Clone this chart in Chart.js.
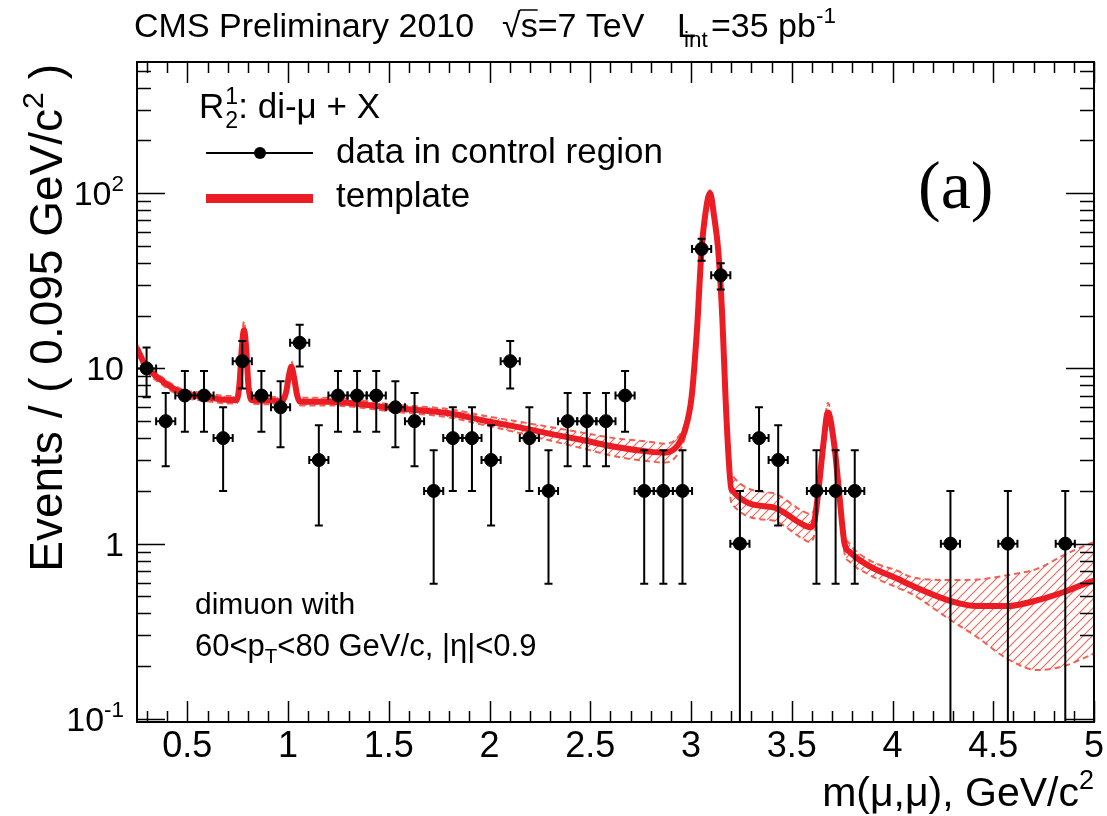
<!DOCTYPE html>
<html>
<head>
<meta charset="utf-8">
<title>Dimuon mass, control region</title>
<script src="https://cdn.jsdelivr.net/npm/chart.js@4.4.1/dist/chart.umd.min.js"></script>
<style>
  html, body { margin: 0; padding: 0; background: #fff; }
  #wrap { width: 1107px; height: 816px; }
</style>
</head>
<body>
<div id="wrap"><canvas id="massChart" width="1107" height="816"></canvas></div>
<script>
// binned data in the control region (bin width 0.095 GeV/c^2, empty bins left out)
const binWidth = 0.095;
const massBins = [
  0.2975, 0.3925, 0.4875, 0.5825, 0.6775, 0.7725, 0.8675, 0.9625, 1.0575, 1.1525,
  1.2475, 1.3425, 1.4375, 1.5325, 1.6275, 1.7225, 1.8175, 1.9125, 2.0075, 2.1025,
  2.1975, 2.2925, 2.3875, 2.4825, 2.5775, 2.6725, 2.7675, 2.8625, 2.9575, 3.0525,
  3.1475, 3.2425, 3.3375, 3.4325, 3.6225, 3.7175, 3.8125, 4.2875, 4.5725, 4.8575
];
const counts = [
  10, 5, 7, 7, 4, 11, 7, 6, 14, 3,
  7, 7, 7, 6, 5, 2, 4, 4, 3, 11,
  4, 2, 5, 5, 5, 7, 2, 2, 2, 48,
  34, 1, 4, 3, 2, 2, 2, 1, 1, 1
];
const countErr = [
  3.16, 2.24, 2.65, 2.65, 2, 3.32, 2.65, 2.45, 3.74, 1.73,
  2.65, 2.65, 2.65, 2.45, 2.24, 1.41, 2, 2, 1.73, 3.32,
  2, 1.41, 2.24, 2.24, 2.24, 2.65, 1.41, 1.41, 1.41, 6.93,
  5.83, 1, 2, 1.73, 1.41, 1.41, 1.41, 1, 1, 1
];

// template shape with its uncertainty band
const templateMass = [
  0.25, 0.29, 0.38, 0.48, 0.58, 0.71, 0.745, 0.76, 0.77, 0.781,
  0.792, 0.803, 0.82, 0.9, 0.97, 0.99, 1.005, 1.016, 1.03, 1.045,
  1.06, 1.2, 1.535, 1.8, 1.96, 2.13, 2.29, 2.46, 2.62, 2.79,
  2.87, 2.935, 2.97, 3.003, 3.03, 3.052, 3.069, 3.094, 3.115, 3.135,
  3.155, 3.171, 3.185, 3.2, 3.4, 3.547, 3.59, 3.613, 3.638, 3.659,
  3.679, 3.712, 3.737, 3.762, 3.786, 3.89, 4.025, 4.09, 4.29, 4.42,
  4.57, 4.72, 4.85, 4.98, 5.0
];
const templateVal = [
  13.0, 10.5, 8.4, 7.2, 6.9, 6.6, 6.6, 8.5, 13, 16.5,
  13, 8, 6.6, 6.55, 6.5, 7.3, 9.2, 10.2, 8.8, 7.0,
  6.45, 6.45, 5.92, 5.54, 5.07, 4.65, 4.26, 3.9, 3.57, 3.35,
  3.3, 3.65, 4.45, 6.9, 17, 47, 73, 100, 73, 47,
  19.7, 6.9, 3.3, 2.05, 1.62, 1.30, 1.24, 1.36, 2.31, 3.9,
  5.6, 3.57, 1.85, 1.0, 0.9, 0.74, 0.63, 0.58, 0.47, 0.44,
  0.44, 0.476, 0.53, 0.605, 0.615
];
const bandHi = [
  13.8, 11.1, 8.8, 7.55, 7.25, 6.95, 6.95, 9.0, 14, 18.5,
  14, 8.5, 6.95, 6.9, 6.85, 7.7, 9.7, 11.0, 9.3, 7.35,
  6.8, 6.8, 6.2, 5.85, 5.4, 5.0, 4.65, 4.3, 4.0, 3.82,
  3.72, 4.05, 4.85, 7.3, 17.8, 49, 76, 104, 76, 49,
  20.6, 7.4, 3.75, 2.5, 1.95, 1.55, 1.48, 1.58, 2.6, 4.35,
  6.35, 3.95, 2.1, 1.14, 1.0, 0.8, 0.7, 0.646, 0.62, 0.624,
  0.661, 0.72, 0.86, 1.0, 1.02
];
const bandLo = [
  12.2, 9.9, 8.0, 6.85, 6.55, 6.3, 6.3, 8.0, 12, 15.5,
  12, 7.5, 6.3, 6.25, 6.2, 6.95, 8.75, 9.7, 8.35, 6.65,
  6.15, 6.15, 5.65, 5.25, 4.78, 4.33, 3.9, 3.5, 3.15, 2.95,
  2.9, 3.25, 4.05, 6.5, 16.2, 45, 70, 96, 70, 45,
  18.8, 6.4, 2.9, 1.7, 1.36, 1.08, 1.02, 1.14, 2.0, 3.45,
  5.0, 3.15, 1.62, 0.88, 0.79, 0.66, 0.56, 0.52, 0.365, 0.293,
  0.22, 0.19, 0.2, 0.23, 0.235
];

// axis tick labels
const xTickLabels = [0.5, 1, 1.5, 2, 2.5, 3, 3.5, 4, 4.5, 5];
const yDecades = [0.1, 1, 10, 100];
const yDecadeText = [['10', '-1'], ['1', ''], ['10', ''], ['10', '2']];

const RED = 'rgb(236, 28, 36)';
const BAND_RED = 'rgba(238, 80, 66, 0.9)';
const SANS = '"Liberation Sans", Arial, Helvetica, sans-serif';
const SERIF = '"Liberation Serif", "Times New Roman", serif';

function makeHatch() {
  const c = document.createElement('canvas');
  c.width = 9; c.height = 9;
  const g = c.getContext('2d');
  g.strokeStyle = 'rgba(240, 90, 75, 0.9)';
  g.lineWidth = 1.2;
  g.beginPath();
  g.moveTo(0, 9); g.lineTo(9, 0);
  g.moveTo(-1, 1); g.lineTo(1, -1);
  g.moveTo(8, 10); g.lineTo(10, 8);
  g.stroke();
  return g.createPattern(c, 'repeat');
}

// text with superscript / subscript pieces: parts = [[text, 'sup'|'sub'|''], ...]
function richWidth(ctx, parts, size, font) {
  let w = 0;
  parts.forEach(([t, k]) => {
    ctx.font = `${k ? size * 0.66 : size}px ${font}`;
    w += ctx.measureText(t).width;
  });
  return w;
}

function drawRich(ctx, parts, x, y, size, align, font = SANS) {
  let cx = align === 'right' ? x - richWidth(ctx, parts, size, font) : x;
  parts.forEach(([t, k]) => {
    const s = k ? size * 0.66 : size;
    ctx.font = `${s}px ${font}`;
    const dy = k === 'sup' ? -size * 0.42 : k === 'sub' ? size * 0.24 : 0;
    ctx.fillText(t, cx, y + dy);
    cx += ctx.measureText(t).width;
  });
  return cx;
}

const errorBars = {
  id: 'errorBars',
  afterDatasetsDraw(chart) {
    const { ctx, chartArea: a, scales: { x, y } } = chart;
    ctx.save();
    ctx.beginPath();
    ctx.rect(a.left, a.top, a.right - a.left, a.bottom - a.top);
    ctx.clip();
    ctx.strokeStyle = '#000';
    ctx.lineWidth = 2;
    massBins.forEach((m, i) => {
      const n = counts[i], e = countErr[i];
      const px = x.getPixelForValue(m), py = y.getPixelForValue(n);
      const yHi = y.getPixelForValue(n + e);
      const hasLo = n - e > 0.01;
      const yLo = hasLo ? y.getPixelForValue(n - e) : a.bottom + 5;
      const xl = x.getPixelForValue(m - binWidth / 2), xr = x.getPixelForValue(m + binWidth / 2);
      ctx.beginPath();
      ctx.moveTo(px, yHi); ctx.lineTo(px, yLo);
      ctx.moveTo(xl, py); ctx.lineTo(xr, py);
      ctx.moveTo(px - 4, yHi); ctx.lineTo(px + 4, yHi);
      if (hasLo) { ctx.moveTo(px - 4, yLo); ctx.lineTo(px + 4, yLo); }
      ctx.moveTo(xl, py - 4); ctx.lineTo(xl, py + 4);
      ctx.moveTo(xr, py - 4); ctx.lineTo(xr, py + 4);
      ctx.stroke();
    });
    ctx.restore();
  }
};

// frame, inward ticks and all the annotation text
const decorations = {
  id: 'decorations',
  afterDraw(chart) {
    const { ctx, chartArea: a, scales: { x, y } } = chart;
    ctx.save();
    ctx.strokeStyle = '#000';
    ctx.fillStyle = '#000';
    ctx.lineWidth = 2;
    ctx.strokeRect(a.left, a.top, a.right - a.left, a.bottom - a.top);

    ctx.lineWidth = 1.5;
    ctx.beginPath();
    for (let k = 3; k <= 50; k++) {
      const v = k / 10;
      const px = Math.round(x.getPixelForValue(v)) + 0.5;
      const len = k % 5 === 0 ? 21 : 11;
      ctx.moveTo(px, a.bottom); ctx.lineTo(px, a.bottom - len);
      ctx.moveTo(px, a.top); ctx.lineTo(px, a.top + len);
    }
    yDecades.forEach(d => {
      for (let k = 1; k <= 9; k++) {
        const v = d * k;
        if (v < y.min || v > y.max) continue;
        const py = Math.round(y.getPixelForValue(v)) + 0.5;
        const len = k === 1 ? 28 : 14;
        ctx.moveTo(a.left, py); ctx.lineTo(a.left + len, py);
        ctx.moveTo(a.right, py); ctx.lineTo(a.right - len, py);
      }
    });
    ctx.stroke();

    // y tick labels
    ctx.textBaseline = 'alphabetic';
    yDecades.forEach((d, i) => {
      const [base, exp] = yDecadeText[i];
      const py = y.getPixelForValue(d) + 12;
      const parts = exp ? [[base, ''], [exp, 'sup']] : [[base, '']];
      drawRich(ctx, parts, 124, py, 34, 'right');
    });

    // y axis title, ending near the top of the frame
    ctx.save();
    ctx.translate(62, 64);
    ctx.rotate(-Math.PI / 2);
    drawRich(ctx, [['Events / ( 0.095 GeV/c', ''], ['2', 'sup'], [' )', '']], 0, 0, 46, 'right');
    ctx.restore();

    // x axis title
    drawRich(ctx, [['m(\u03bc,\u03bc), GeV/c', ''], ['2', 'sup']], a.right, 806, 41, 'right');

    // header line
    drawRich(ctx, [['CMS Preliminary 2010', '']], 134, 37, 34);
    const sx = drawRich(ctx, [['\u221a', '']], 502, 37, 34);
    ctx.font = `34px ${SANS}`;
    const sw = ctx.measureText('s').width;
    ctx.lineWidth = 1.5;
    ctx.beginPath();
    ctx.moveTo(sx - 1, 37 - 27); ctx.lineTo(sx + sw, 37 - 27);
    ctx.stroke();
    drawRich(ctx, [['s=7 TeV', '']], sx, 37, 34);
    // luminosity: the "int" subscript tucks under the L, ROOT style
    drawRich(ctx, [['L', '']], 677, 37, 34);
    drawRich(ctx, [['int', 'sub']], 684, 39, 34);
    drawRich(ctx, [['=35 pb', ''], ['-1', 'sup']], 711, 37, 34);

    // legend header R^1_2
    ctx.font = `35px ${SANS}`;
    ctx.fillText('R', 199, 118);
    const rx = 199 + ctx.measureText('R').width;
    ctx.font = `${35 * 0.66}px ${SANS}`;
    ctx.fillText('1', rx + 1, 104);
    ctx.fillText('2', rx + 1, 128);
    drawRich(ctx, [[': di-\u03bc + X', '']], rx + 14, 118, 35);

    // legend entries
    ctx.lineWidth = 2;
    ctx.beginPath();
    ctx.moveTo(206, 153); ctx.lineTo(313, 153);
    ctx.stroke();
    ctx.beginPath();
    ctx.arc(260, 153, 6, 0, Math.PI * 2);
    ctx.fill();
    ctx.fillStyle = RED;
    ctx.fillRect(206, 194, 107, 9);
    ctx.fillStyle = '#000';
    drawRich(ctx, [['data in control region', '']], 336, 163, 35);
    drawRich(ctx, [['template', '']], 336, 207, 35);

    // panel label
    drawRich(ctx, [['(a)', '']], 918, 208, 68, 'left', SERIF);

    // selection text
    drawRich(ctx, [['dimuon with', '']], 195, 614, 30);
    drawRich(ctx, [['60<p', ''], ['T', 'sub'], ['<80 GeV/c, |\u03b7|<0.9', '']], 195, 656, 31);
    ctx.restore();
  }
};

const hatch = makeHatch();

new Chart(document.getElementById('massChart'), {
  type: 'scatter',
  data: {
    datasets: [
      {
        label: 'data in control region',
        data: massBins.map((m, i) => ({ x: m, y: counts[i] })),
        backgroundColor: '#000',
        borderColor: '#000',
        pointRadius: 6.5,
        pointHoverRadius: 6.5
      },
      {
        label: 'template',
        data: templateMass.map((m, i) => ({ x: m, y: templateVal[i] })),
        showLine: true,
        borderColor: RED,
        borderWidth: 6,
        pointRadius: 0,
        cubicInterpolationMode: 'monotone',
        fill: false
      },
      {
        label: 'template upper',
        data: templateMass.map((m, i) => ({ x: m, y: bandHi[i] })),
        showLine: true,
        borderColor: BAND_RED,
        borderWidth: 2,
        borderDash: [6, 4],
        pointRadius: 0,
        cubicInterpolationMode: 'monotone',
        fill: false
      },
      {
        label: 'template lower',
        data: templateMass.map((m, i) => ({ x: m, y: bandLo[i] })),
        showLine: true,
        borderColor: BAND_RED,
        borderWidth: 2,
        borderDash: [6, 4],
        pointRadius: 0,
        cubicInterpolationMode: 'monotone',
        backgroundColor: hatch,
        fill: '-1'
      }
    ]
  },
  options: {
    responsive: false,
    animation: false,
    devicePixelRatio: 1,
    layout: { padding: { top: 62, right: 10, left: 0, bottom: 0 } },
    plugins: {
      legend: { display: false },
      tooltip: { enabled: false },
      filler: { propagate: false }
    },
    scales: {
      x: {
        type: 'linear',
        min: 0.25,
        max: 5,
        grid: { display: false, drawTicks: false },
        border: { display: false },
        afterBuildTicks: s => { s.ticks = xTickLabels.map(v => ({ value: v })); },
        afterFit: s => { s.height = 94; },
        ticks: {
          color: '#000',
          padding: 3,
          maxRotation: 0,
          font: { family: SANS, size: 36 },
          callback: v => String(v)
        }
      },
      y: {
        type: 'logarithmic',
        min: 0.096,
        max: 560,
        grid: { display: false, drawTicks: false },
        border: { display: false },
        ticks: { display: false },
        afterFit: s => { s.width = 137; }
      }
    }
  },
  plugins: [errorBars, decorations]
});
</script>
</body>
</html>
